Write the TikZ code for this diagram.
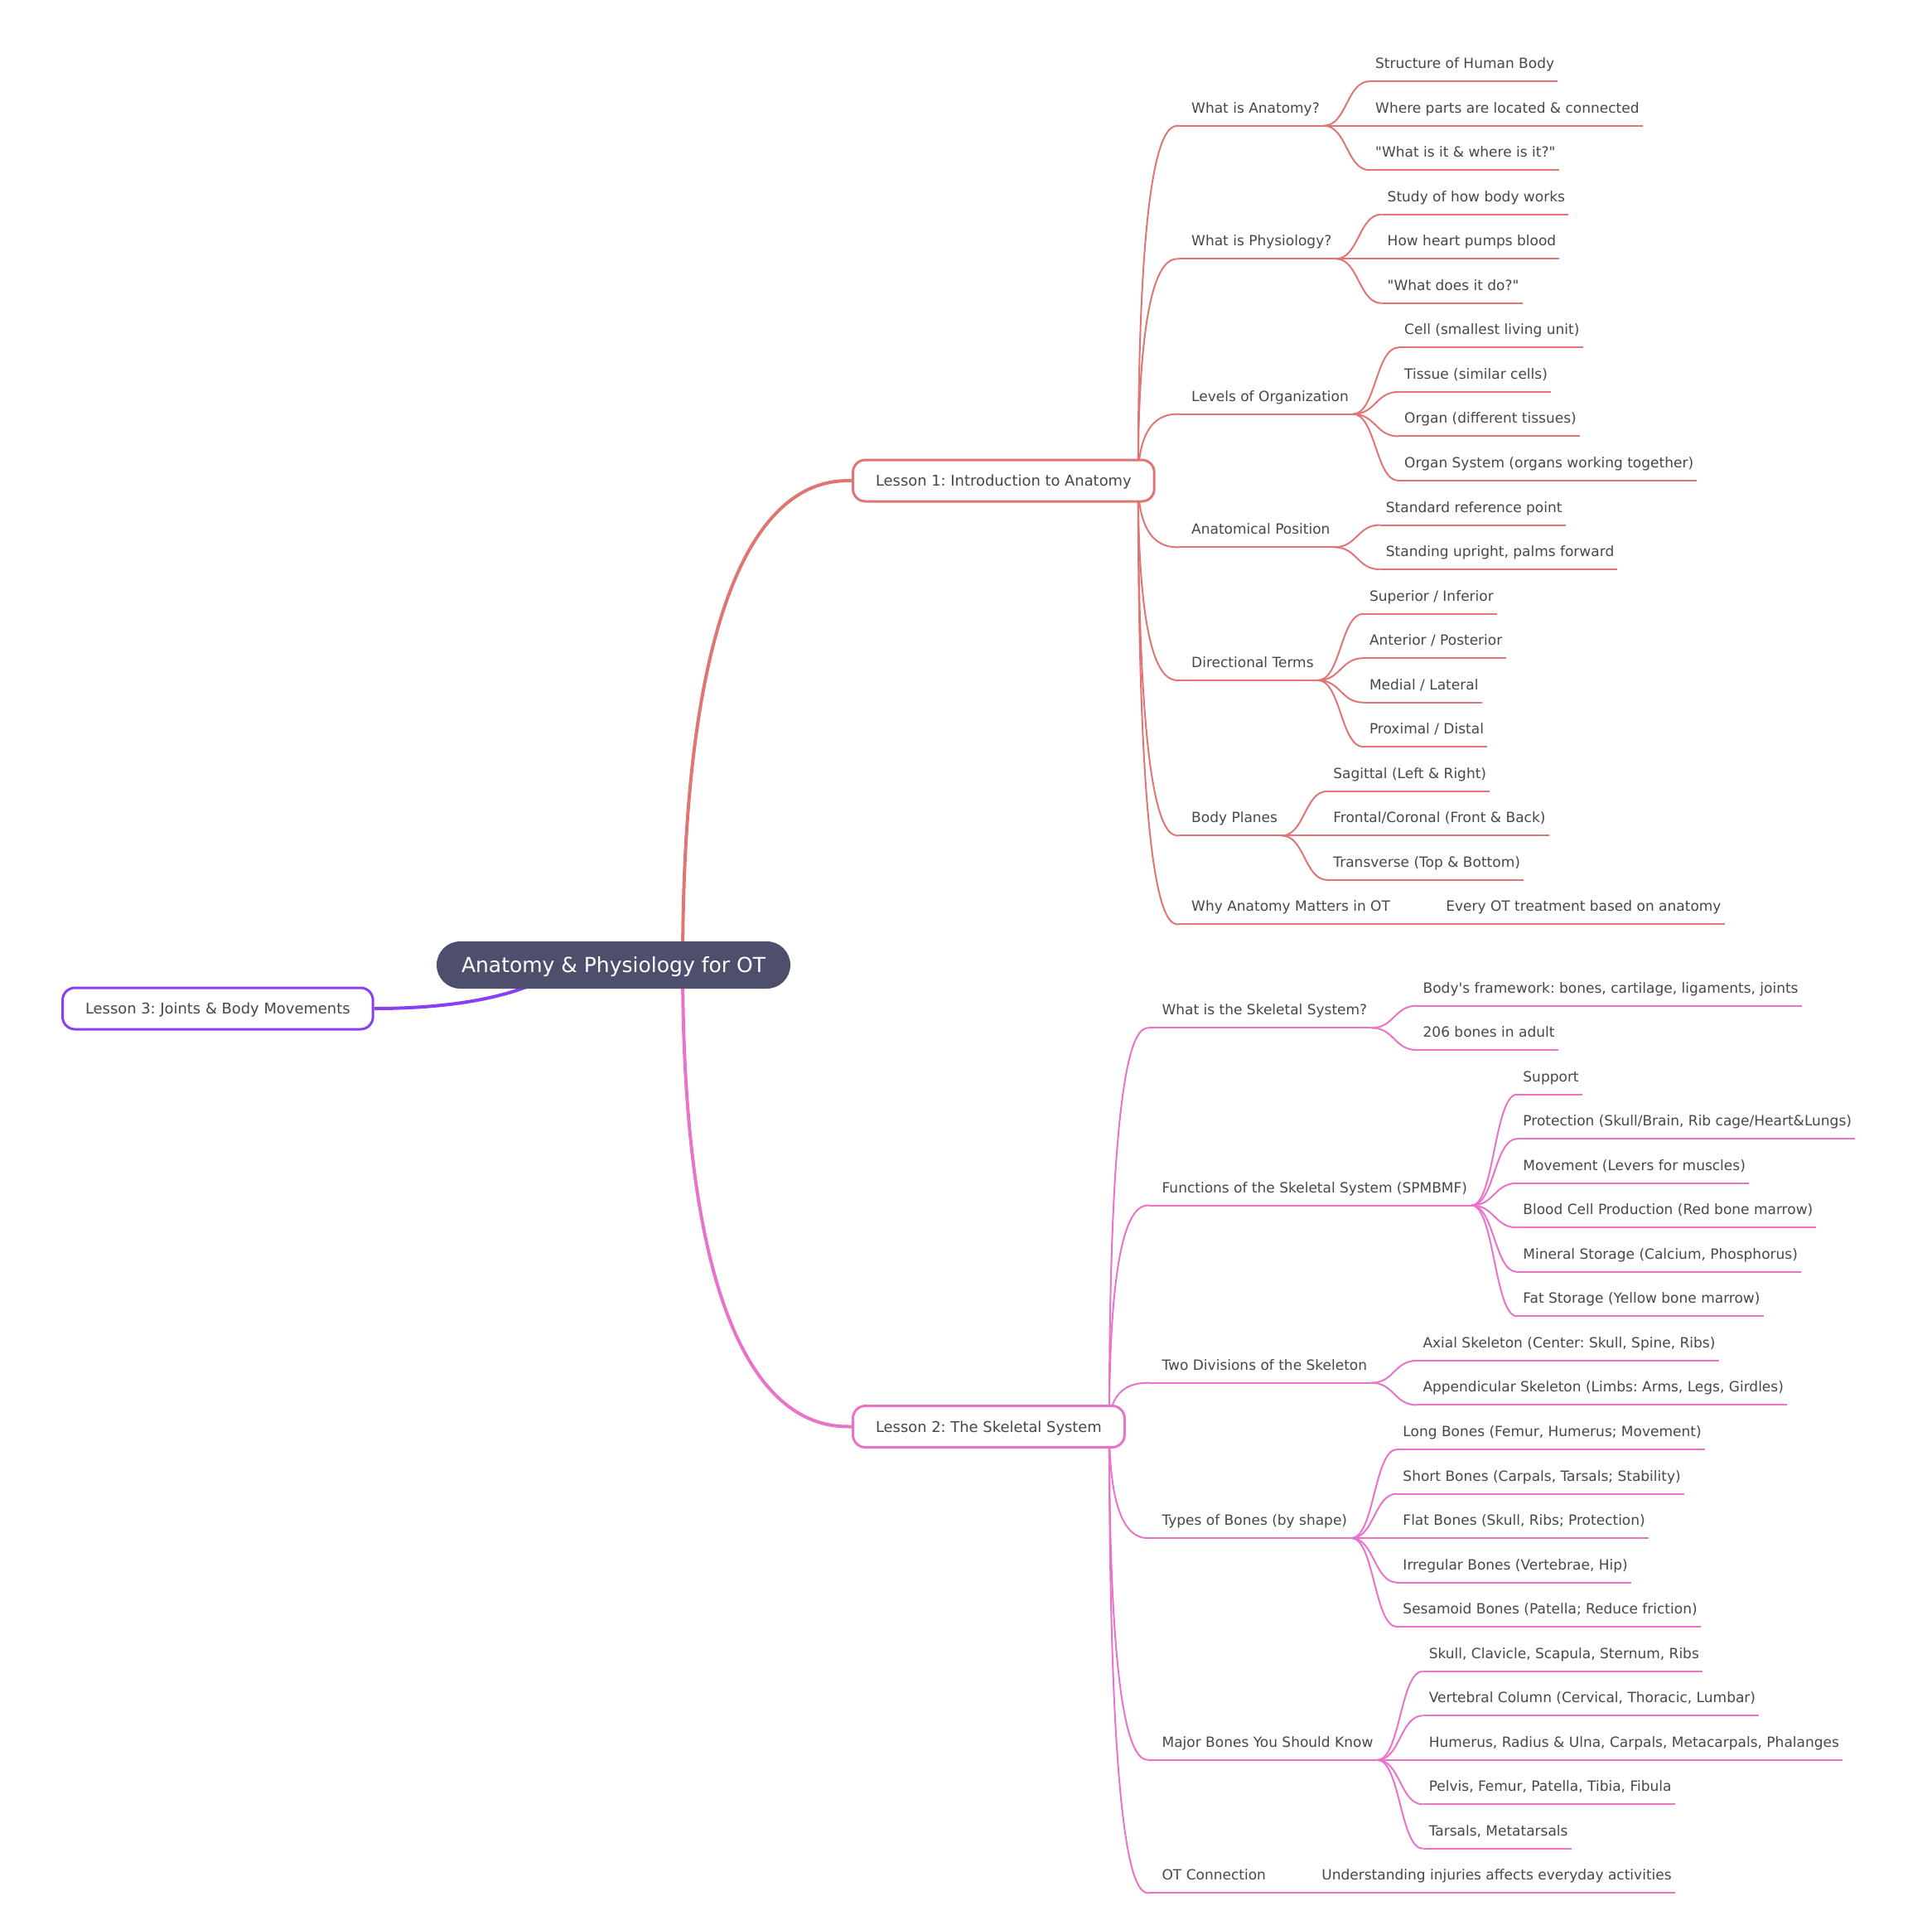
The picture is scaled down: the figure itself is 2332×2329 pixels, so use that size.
\documentclass[tikz,border=0pt]{standalone}
\usepackage{fontspec}
\setmainfont{DejaVu Sans}[Ligatures=TeXOff]
\usetikzlibrary{calc,backgrounds}
\definecolor{cA}{HTML}{E07575}
\definecolor{cB}{HTML}{E873C9}
\definecolor{cC}{HTML}{8A3FF0}
\definecolor{rootfill}{HTML}{4D4F6C}
\definecolor{txt}{HTML}{474747}
\tikzset{
  lbl/.style={inner sep=0pt, text=txt, font=\fontsize{17.0}{20}\selectfont, anchor=base west},
  lessonbox/.style={draw=#1, line width=3pt, fill=white, rounded corners=15pt, minimum height=50pt, inner xsep=27.5pt, inner ysep=0pt, text height=13pt, text depth=0pt, text=txt, font=\fontsize{17.9}{21}\selectfont, anchor=west},
  rootbox/.style={fill=rootfill, rounded corners=28.5pt, minimum height=57pt, inner xsep=30pt, text height=18.2pt, text depth=0pt, text=white, font=\fontsize{25}{30}\selectfont},
  bigedge/.style={draw=#1, line width=4pt},
  smalledge/.style={draw=#1, line width=2pt},
}
\newcommand{\mmchild}[5]{%
  \node[lbl] (#1) at (#2,#3-15.5) {#5};
  \coordinate (#1s) at ([shift={(-15,15.5)}]#1.base west);
  \coordinate (#1e) at ([shift={(5,15.5)}]#1.base east);
  \draw[smalledge=#4] (#1s) -- (#1e);
}
\newcommand{\mmgc}[5]{%
  \coordinate (#1y) at (0,#3-15.5);
  \coordinate (#1x) at ([xshift=67pt]#2.base east);
  \node[lbl] (#1) at (#1x |- #1y) {#5};
  \coordinate (#1s) at ([shift={(-7,15.5)}]#1.base west);
  \coordinate (#1e) at ([shift={(4,15.5)}]#1.base east);
  \draw[smalledge=#4] (#1s) -- (#1e);
  \coordinate (#1m) at ($(#2e)!0.5!(#1s)$);
  \draw[smalledge=#4] (#2e) .. controls (#1m |- #2e) and (#1m |- #1s) .. (#1s);
}
\newcommand{\mmvedge}[4]{%
  \draw[#1] (#2) .. controls (#2 |- #3) and ($(#2 |- #3)!#4!(#3)$) .. (#3);
}
\frenchspacing
\begin{document}
\frenchspacing
\begin{tikzpicture}[x=1pt,y=-1pt]
\useasboundingbox (0,0) rectangle (2332,2329);

% main nodes
\node[rootbox] (root) at (740.5,1164.5) {Anatomy \& Physiology for OT};
\node[lessonbox=cA] (l1) at (1028,580) {Lesson 1: Introduction to Anatomy};
\node[lessonbox=cB] (l2) at (1028,1721.5) {Lesson 2: The Skeletal System};
\node[lessonbox=cC] (l3) at (74,1217) {Lesson 3: Joints \& Body Movements};

\coordinate (r1) at (824,1164.5);
\coordinate (r3) at (680,1164.5);
\coordinate (r3a) at (652,1193);
\coordinate (r3b) at (575,1217);
\coordinate (l1o) at ([xshift=-21pt]l1.east);
\coordinate (l2o) at ([xshift=-20pt]l2.east);

% Lesson 1 subtree
\mmchild{a1}{1438}{151.70}{cA}{What is Anatomy?}
\mmgc{a11}{a1}{98.16}{cA}{Structure of Human Body}
\mmgc{a12}{a1}{151.70}{cA}{Where parts are located \& connected}
\mmgc{a13}{a1}{205.24}{cA}{"What is it \& where is it?"}

\mmchild{a2}{1438}{312.32}{cA}{What is Physiology?}
\mmgc{a21}{a2}{258.78}{cA}{Study of how body works}
\mmgc{a22}{a2}{312.32}{cA}{How heart pumps blood}
\mmgc{a23}{a2}{365.86}{cA}{"What does it do?"}

\mmchild{a3}{1438}{499.71}{cA}{Levels of Organization}
\mmgc{a31}{a3}{419.40}{cA}{Cell (smallest living unit)}
\mmgc{a32}{a3}{472.94}{cA}{Tissue (similar cells)}
\mmgc{a33}{a3}{526.48}{cA}{Organ (different tissues)}
\mmgc{a34}{a3}{580.02}{cA}{Organ System (organs working together)}

\mmchild{a4}{1438}{660.33}{cA}{Anatomical Position}
\mmgc{a41}{a4}{633.56}{cA}{Standard reference point}
\mmgc{a42}{a4}{687.10}{cA}{Standing upright, palms forward}

\mmchild{a5}{1438}{820.95}{cA}{Directional Terms}
\mmgc{a51}{a5}{740.64}{cA}{Superior / Inferior}
\mmgc{a52}{a5}{794.18}{cA}{Anterior / Posterior}
\mmgc{a53}{a5}{847.72}{cA}{Medial / Lateral}
\mmgc{a54}{a5}{901.26}{cA}{Proximal / Distal}

\mmchild{a6}{1438}{1008.34}{cA}{Body Planes}
\mmgc{a61}{a6}{954.80}{cA}{Sagittal (Left \& Right)}
\mmgc{a62}{a6}{1008.34}{cA}{Frontal/Coronal (Front \& Back)}
\mmgc{a63}{a6}{1061.88}{cA}{Transverse (Top \& Bottom)}

\mmchild{a7}{1438}{1115.42}{cA}{Why Anatomy Matters in OT}
\mmgc{a71}{a7}{1115.42}{cA}{Every OT treatment based on anatomy}

% Lesson 2 subtree
\mmchild{b1}{1402.4}{1240.37}{cB}{What is the Skeletal System?}
\mmgc{b11}{b1}{1213.60}{cB}{Body's framework: bones, cartilage, ligaments, joints}
\mmgc{b12}{b1}{1267.14}{cB}{206 bones in adult}

\mmchild{b2}{1402.4}{1454.53}{cB}{Functions of the Skeletal System (SPMBMF)}
\mmgc{b21}{b2}{1320.68}{cB}{Support}
\mmgc{b22}{b2}{1374.22}{cB}{Protection (Skull/Brain, Rib cage/Heart\&Lungs)}
\mmgc{b23}{b2}{1427.76}{cB}{Movement (Levers for muscles)}
\mmgc{b24}{b2}{1481.30}{cB}{Blood Cell Production (Red bone marrow)}
\mmgc{b25}{b2}{1534.84}{cB}{Mineral Storage (Calcium, Phosphorus)}
\mmgc{b26}{b2}{1588.38}{cB}{Fat Storage (Yellow bone marrow)}

\mmchild{b3}{1402.4}{1668.69}{cB}{Two Divisions of the Skeleton}
\mmgc{b31}{b3}{1641.92}{cB}{Axial Skeleton (Center: Skull, Spine, Ribs)}
\mmgc{b32}{b3}{1695.46}{cB}{Appendicular Skeleton (Limbs: Arms, Legs, Girdles)}

\mmchild{b4}{1402.4}{1856.08}{cB}{Types of Bones (by shape)}
\mmgc{b41}{b4}{1749.00}{cB}{Long Bones (Femur, Humerus; Movement)}
\mmgc{b42}{b4}{1802.54}{cB}{Short Bones (Carpals, Tarsals; Stability)}
\mmgc{b43}{b4}{1856.08}{cB}{Flat Bones (Skull, Ribs; Protection)}
\mmgc{b44}{b4}{1909.62}{cB}{Irregular Bones (Vertebrae, Hip)}
\mmgc{b45}{b4}{1963.16}{cB}{Sesamoid Bones (Patella; Reduce friction)}

\mmchild{b5}{1402.4}{2123.78}{cB}{Major Bones You Should Know}
\mmgc{b51}{b5}{2016.70}{cB}{Skull, Clavicle, Scapula, Sternum, Ribs}
\mmgc{b52}{b5}{2070.24}{cB}{Vertebral Column (Cervical, Thoracic, Lumbar)}
\mmgc{b53}{b5}{2123.78}{cB}{Humerus, Radius \& Ulna, Carpals, Metacarpals, Phalanges}
\mmgc{b54}{b5}{2177.32}{cB}{Pelvis, Femur, Patella, Tibia, Fibula}
\mmgc{b55}{b5}{2230.86}{cB}{Tarsals, Metatarsals}

\mmchild{b6}{1402.4}{2284.40}{cB}{OT Connection}
\mmgc{b61}{b6}{2284.40}{cB}{Understanding injuries affects everyday activities}

\begin{scope}[on background layer]
  \mmvedge{bigedge=cA}{r1}{l1.west}{0.8}
  \mmvedge{bigedge=cB}{r1}{l2.west}{0.8}
  \draw[bigedge=cC] (r3) .. controls (r3a) and (r3b) .. (l3.east);
  \foreach \c in {a1,a2,a3,a4,a5,a6,a7} {\mmvedge{smalledge=cA}{l1o}{\c s}{0.74}}
  \foreach \c in {b1,b2,b3,b4,b5,b6} {\mmvedge{smalledge=cB}{l2o}{\c s}{0.74}}
\end{scope}
\end{tikzpicture}
\end{document}
